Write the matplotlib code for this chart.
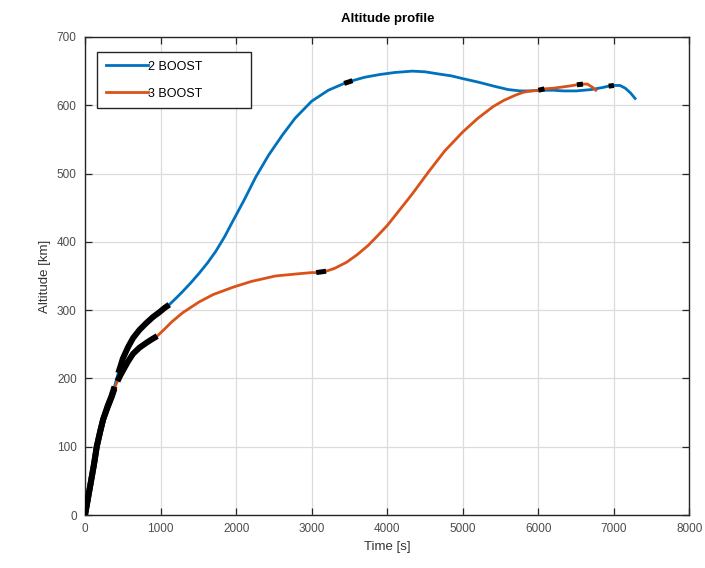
"""Altitude profile for the two- and three-boost transfer strategies."""

import matplotlib.pyplot as plt
import numpy as np

plt.rcParams["font.family"] = ["Liberation Sans", "DejaVu Sans"]

# 2 BOOST trajectory: time [s], altitude [km]
t_2boost = [
    0, 40, 80, 120, 155, 200, 240, 300, 350, 390,
    410, 440, 470, 500, 570, 635, 720, 810, 900, 985,
    1050, 1115, 1200, 1290, 1400, 1510, 1620, 1730, 1850, 1940,
    2100, 2260, 2430, 2610, 2780, 3000, 3220, 3430, 3540, 3700,
    3900, 4100, 4330, 4500, 4670, 4850, 5000, 5200, 5410, 5600,
    5760, 5900, 6040, 6200, 6330, 6500, 6700, 6850, 6930, 7000,
    7080, 7150, 7220, 7280,
]
alt_2boost = [
    0, 25, 50, 75, 100, 122, 140, 160, 174, 188,
    196, 208, 218, 229, 246, 259, 271, 281, 290, 297,
    303, 308, 317, 327, 340, 354, 369, 386, 408, 427,
    460, 495, 527, 556, 581, 606, 622, 632, 636, 641,
    645, 648, 650, 649, 646, 643, 639, 634, 628, 623,
    621, 621, 622, 622, 621, 621, 623, 626, 628, 629,
    629, 625, 618, 610,
]

# 3 BOOST trajectory: time [s], altitude [km]
t_3boost = [
    0, 40, 80, 120, 155, 200, 240, 300, 350, 390,
    410, 430, 470, 500, 570, 635, 720, 810, 880, 955,
    1050, 1150, 1290, 1400, 1510, 1700, 1970, 2200, 2520, 2800,
    3000, 3060, 3190, 3300, 3460, 3600, 3750, 3890, 4000, 4130,
    4330, 4550, 4760, 5000, 5200, 5400, 5540, 5700, 5800, 5900,
    6000, 6080, 6200, 6400, 6510, 6590, 6650, 6720, 6760,
]
alt_3boost = [
    0, 25, 50, 75, 100, 122, 140, 158, 172, 185,
    191, 196, 205, 211, 225, 236, 245, 252, 257, 262,
    272, 283, 296, 304, 312, 323, 334, 342, 350, 353,
    355, 355, 357, 361, 370, 381, 395, 411, 424, 442,
    470, 503, 533, 561, 581, 598, 607, 615, 619, 621,
    622, 624, 625, 628, 630, 631, 631, 626, 622,
]

# thrust arcs (start, end) in seconds, drawn in black over the trajectory
burns_2boost = [(0, 390), (440, 1115), (3430, 3540), (6930, 7000)]
burns_3boost = [(0, 390), (430, 955), (3060, 3190), (6000, 6080), (6510, 6590)]

BLUE = "#0072BD"
ORANGE = "#D95319"


def draw_burns(ax, t, alt, burns):
    t = np.asarray(t)
    alt = np.asarray(alt)
    for start, end in burns:
        mask = (t >= start) & (t <= end)
        lw = 4.3 if start < 1000 else 3.6
        ax.plot(t[mask], alt[mask], color="black", linewidth=lw,
                solid_capstyle="butt", solid_joinstyle="round", zorder=4)


fig, ax = plt.subplots(figsize=(7.05, 5.68), dpi=100)
fig.subplots_adjust(left=0.1206, right=0.978, bottom=0.0933, top=0.9349)

ax.plot(t_2boost, alt_2boost, color=BLUE, linewidth=2.0, label="2 BOOST",
        solid_joinstyle="round", zorder=3)
ax.plot(t_3boost, alt_3boost, color=ORANGE, linewidth=2.0, label="3 BOOST",
        solid_joinstyle="round", zorder=3)
draw_burns(ax, t_2boost, alt_2boost, burns_2boost)
draw_burns(ax, t_3boost, alt_3boost, burns_3boost)

ax.set_xlim(0, 8000)
ax.set_ylim(0, 700)
ax.set_xticks(np.arange(0, 8001, 1000))
ax.set_yticks(np.arange(0, 701, 100))

ax.grid(True, color="#dcdcdc", linewidth=0.9)
ax.set_axisbelow(True)
for spine in ax.spines.values():
    spine.set_color("#262626")
    spine.set_linewidth(1.0)
ax.tick_params(direction="in", top=True, right=True, length=5, width=0.9,
               color="#262626", labelsize=8.5, labelcolor="#4d4d4d", pad=6)

ax.set_xlabel("Time [s]", fontsize=9.5, color="#333333")
ax.set_ylabel("Altitude [km]", fontsize=9.5, color="#333333")
ax.set_title("Altitude profile", fontsize=9.5, fontweight="bold", pad=11)

leg = ax.legend(loc="upper left", bbox_to_anchor=(0.02, 0.85, 0.254, 0.119),
                mode="expand", borderaxespad=0.0, fontsize=9,
                handlelength=3.4, handletextpad=0.0, borderpad=0.7,
                labelspacing=1.2, fancybox=False, framealpha=1.0,
                edgecolor="#262626")
leg.get_frame().set_linewidth(1.0)

fig.savefig("out.png", dpi=100)
plt.close(fig)
